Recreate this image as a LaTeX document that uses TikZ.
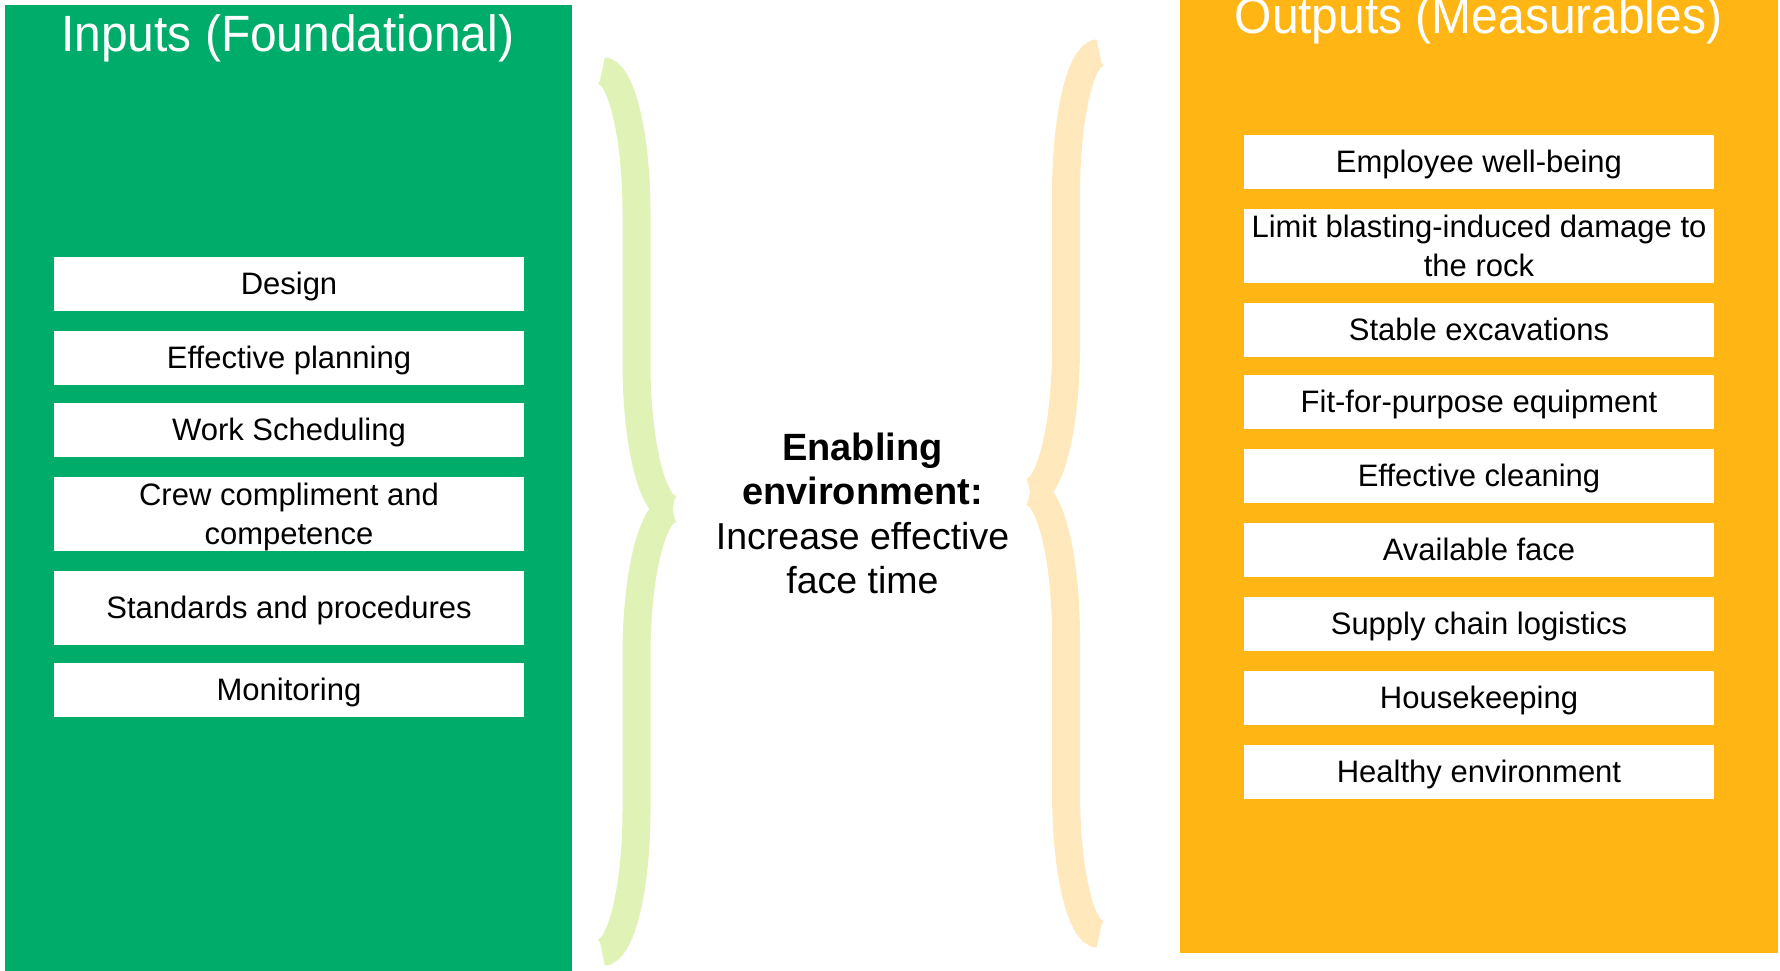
\documentclass[tikz,border=0pt]{standalone}
\usepackage{fontspec}
\setmainfont{Liberation Sans}
\newfontfamily\titlefont[FakeStretch=0.94]{Liberation Sans}
\definecolor{panelgreen}{RGB}{0,172,105}
\definecolor{panelorange}{RGB}{255,182,20}
\definecolor{bracegreen}{RGB}{225,242,182}
\definecolor{braceorange}{RGB}{255,233,188}
\tikzset{
  itembox/.style={fill=white, inner sep=0pt, minimum width=470pt, minimum height=53.7pt,
    align=center, font=\fontsize{31}{38.3}\selectfont, text height=22.2pt, text depth=0pt},
  tallbox/.style={itembox, minimum height=73.7pt},
  twoline/.style={tallbox, text height=60.5pt},
  paneltitle/.style={text=white, inner sep=0pt, anchor=base, font=\titlefont\fontsize{51}{60}\selectfont},
  bracestroke/.style={line width=28pt, line cap=butt},
}
\begin{document}
\begin{tikzpicture}[x=1pt,y=-1pt]
\useasboundingbox (0,0) rectangle (1780,970);
% panels
\fill[panelgreen] (4.5,5) rectangle (571.7,980);
\fill[panelorange] (1180,-10) rectangle (1778,952.7);
% titles
\node[paneltitle] (intitle) at (287.7,51.7) {Inputs (Foundational)};
\node[paneltitle] (outtitle) at (1478.5,33) {Outputs (Measurables)};
% input boxes
\node[itembox] (design) at (289,283.85) {Design};
\node[itembox] (planning) at (289,357.85) {Effective planning};
\node[itembox] (sched) at (289,429.85) {Work Scheduling};
\node[twoline] (crew) at (289,513.85) {Crew compliment and\\competence};
\node[tallbox] (std) at (289,607.85) {Standards and procedures};
\node[itembox] (monit) at (289,689.85) {Monitoring};
% output boxes
\node[itembox] (wellbeing) at (1479,161.85) {Employee well-being};
\node[twoline] (blast) at (1479,245.85) {Limit blasting-induced damage to\\the rock};
\node[itembox] (stable) at (1479,329.85) {Stable excavations};
\node[itembox] (equip) at (1479,401.85) {Fit-for-purpose equipment};
\node[itembox] (clean) at (1479,475.85) {Effective cleaning};
\node[itembox] (face) at (1479,549.85) {Available face};
\node[itembox] (supply) at (1479,623.85) {Supply chain logistics};
\node[itembox] (house) at (1479,697.85) {Housekeeping};
\node[itembox] (healthy) at (1479,771.85) {Healthy environment};
% braces
\draw[bracestroke, bracegreen]
  (602,71) .. controls (621,71) and (636.5,134.6) .. (636.5,213) -- (636.5,363)
  .. controls (636.5,443.6) and (652.6,509) .. (672.7,509)
  (672.7,509) .. controls (652.6,509) and (636.5,574.4) .. (636.5,655) -- (636.5,810)
  .. controls (636.5,888.4) and (621,952) .. (602,952);
\draw[bracestroke, braceorange]
  (1099.5,53) .. controls (1080.6,53) and (1066,116.6) .. (1066,195) -- (1066,346)
  .. controls (1066,426.6) and (1050,492) .. (1030,492)
  (1030,492) .. controls (1050,492) and (1066,557.4) .. (1066,638) -- (1066,792)
  .. controls (1066,870.4) and (1080.6,934) .. (1099.5,934);
% centre text
\node[inner sep=0pt, align=center, font=\fontsize{38}{44.4}\selectfont,
      text height=160.4pt, text depth=0pt] (enabling) at (862.5,513.5)
  {\textbf{Enabling}\\\textbf{environment:}\\{\fontsize{37.5}{44.4}\selectfont Increase effective}\\{\fontsize{37.5}{44.4}\selectfont face time}};
\end{tikzpicture}
\end{document}
